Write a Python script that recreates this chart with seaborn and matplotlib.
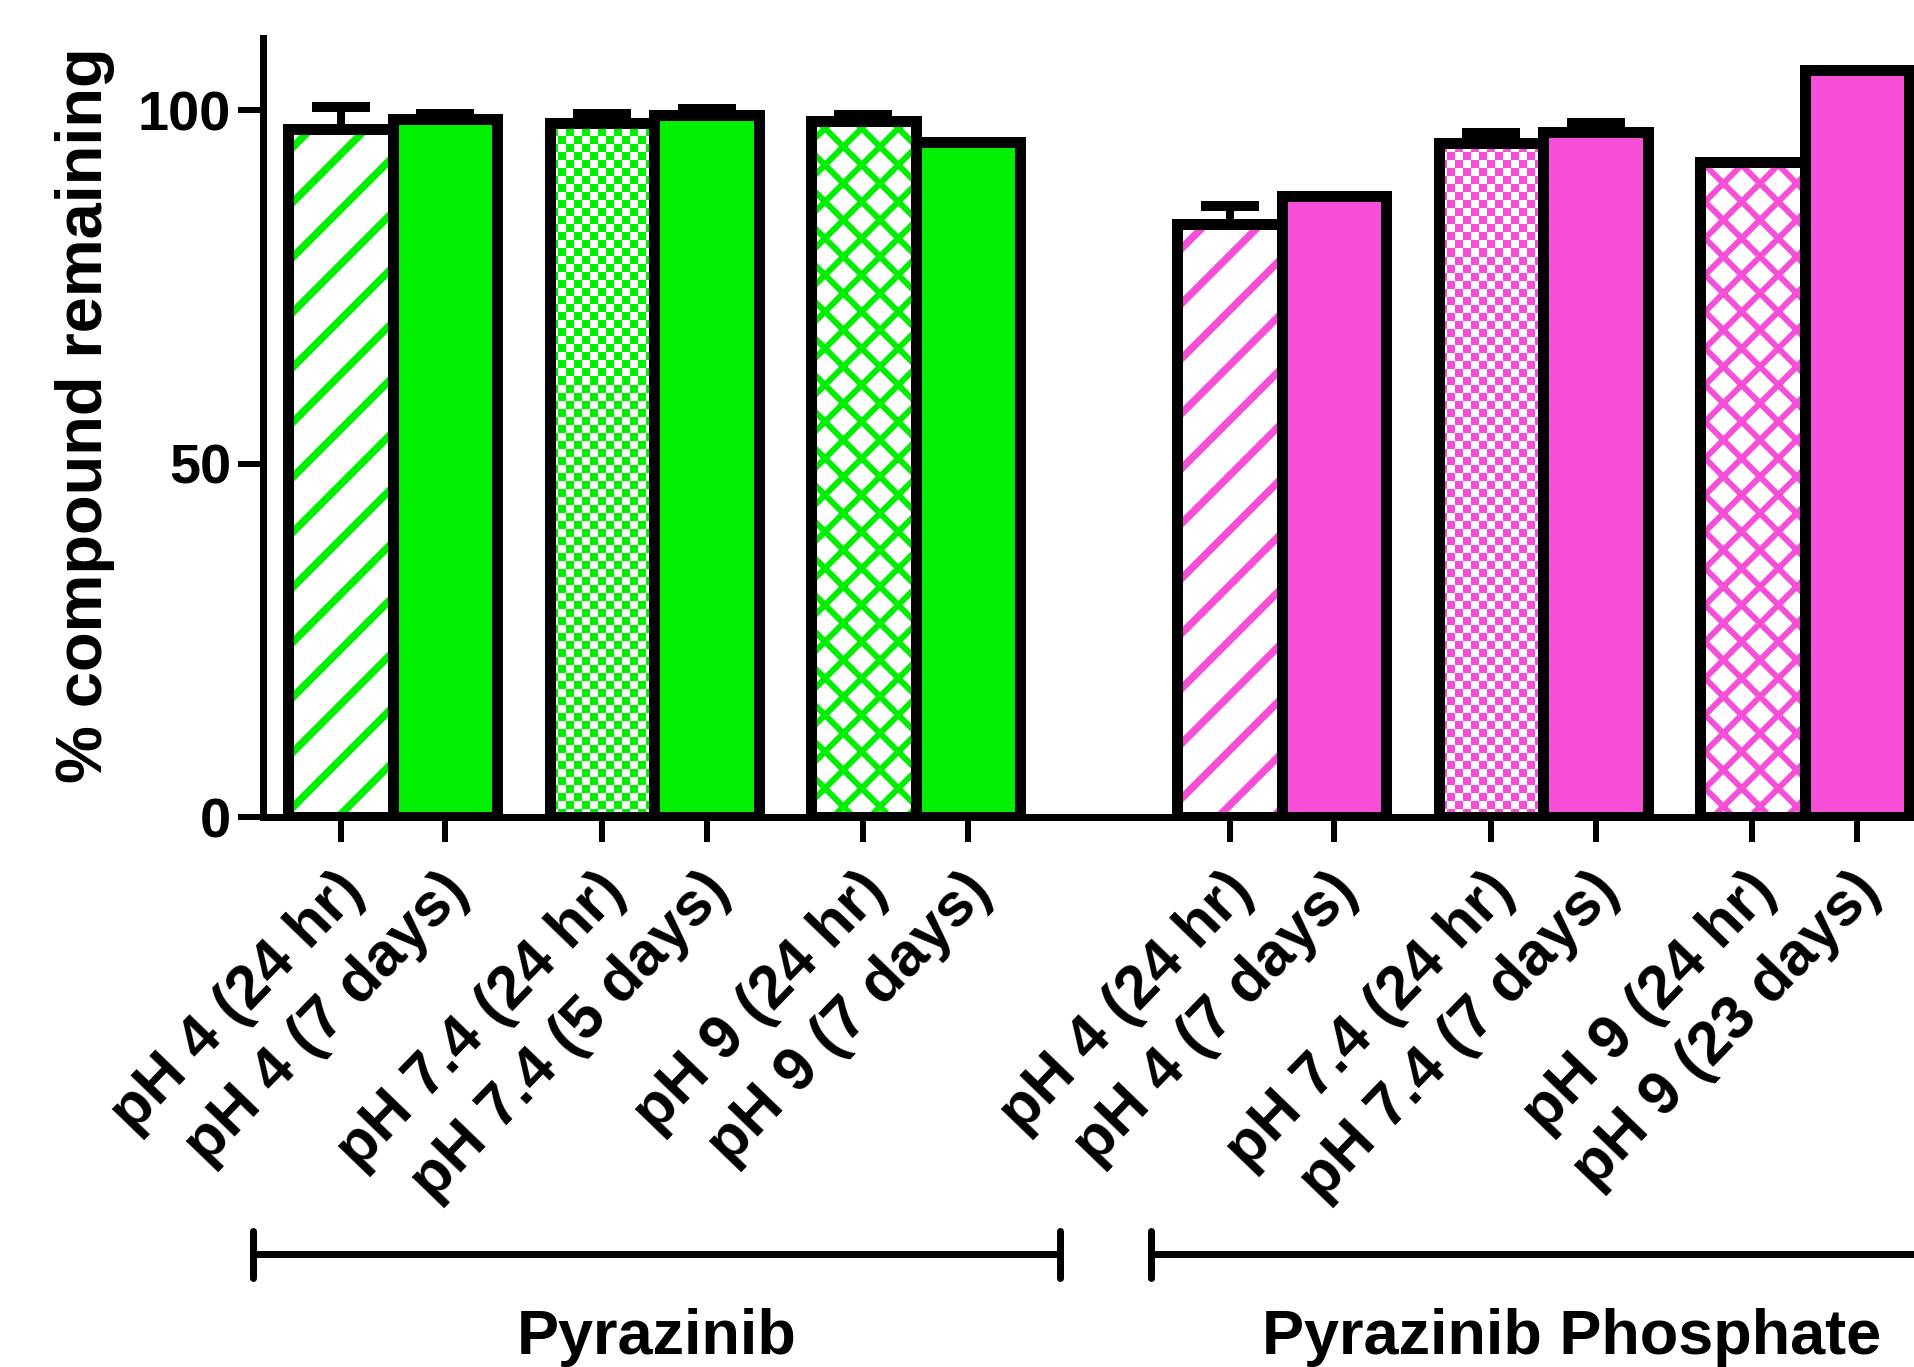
import numpy as np
import pandas as pd
import matplotlib
matplotlib.use("Agg")
import matplotlib.pyplot as plt
import seaborn as sns
from matplotlib.patches import Rectangle
from matplotlib.colors import ListedColormap
from matplotlib.lines import Line2D
import matplotlib.transforms as mtransforms

# ---------------- data ----------------
labels = ["pH 4 (24 hr)", "pH 4 (7 days)", "pH 7.4 (24 hr)", "pH 7.4 (5 days)",
          "pH 9 (24 hr)", "pH 9 (7 days)",
          "pH 4 (24 hr)", "pH 4 (7 days)", "pH 7.4 (24 hr)", "pH 7.4 (7 days)",
          "pH 9 (24 hr)", "pH 9 (23 days)"]
compound = ["Pyrazinib"] * 6 + ["Pyrazinib Phosphate"] * 6
values = [97.3, 98.8, 98.2, 99.3, 98.4, 95.5, 83.9, 87.9, 95.4, 96.9, 92.7, 105.7]
errors = [3.2, 0.7, 1.2, 0.8, 0.9, 0.0, 2.6, 0.0, 1.4, 1.3, 0.0, 0.0]
fills = ["diag", "solid", "checker", "solid", "cross", "solid"] * 2
group_names = ["Pyrazinib", "Pyrazinib Phosphate"]
yticks = [0, 50, 100]

# ---------------- layout / style ----------------
positions = [0, 1, 2.5, 3.5, 5, 6, 8.5, 9.5, 11, 12, 13.5, 14.5]
group_spans = [(-0.84, 6.88), (7.75, 15.8)]
colors = {"Pyrazinib": "#00EE00", "Pyrazinib Phosphate": "#F44FD6"}
hatches = {"diag": "//", "cross": "xxx"}
hatch_px = {"diag": 7.5, "cross": 6.0}

W, H = 1914, 1367
DPI = 330


def pt(px):
    return px * 72.0 / DPI


sns.set_theme(style="ticks")
plt.rcParams['font.family'] = ['Liberation Sans', 'DejaVu Sans']
plt.rcParams['font.weight'] = 'bold'
plt.rcParams['hatch.linewidth'] = pt(6.5)

fig = plt.figure(figsize=(W / DPI, H / DPI), dpi=DPI, facecolor="white")
ax = fig.add_axes([263 / W, 1 - 817 / H, 1 - 263 / W, (817 - 38) / H])

df = pd.DataFrame(dict(pos=positions, value=values, err=errors,
                       compound=compound, fill=fills, label=labels))

sns.barplot(data=df, x="pos", y="value", hue="compound", palette=colors,
            native_scale=True, width=1.0, dodge=False, errorbar=None,
            legend=False, saturation=1, linewidth=0, ax=ax)

XLIM = (-0.742, 15.045)
YLIM = (0, 110.2)
ax.set_xlim(*XLIM)
ax.set_ylim(*YLIM)

x_per_px = 1.0 / (ax.transData.transform((1, 0))[0] - ax.transData.transform((0, 0))[0])
y_per_px = 1.0 / (ax.transData.transform((0, 1))[1] - ax.transData.transform((0, 0))[1])
cell = 8  # checker cell in pixels
cw, ch = cell * x_per_px, cell * y_per_px

EDGE = pt(11)
pos_arr = np.array(positions)
for p in list(ax.patches):
    cx = p.get_x() + p.get_width() / 2
    i = int(np.argmin(np.abs(pos_arr - cx)))
    row = df.iloc[i]
    col = colors[row["compound"]]
    p.set_zorder(2)
    if row["fill"] == "solid":
        p.set_edgecolor("black")
        p.set_linewidth(EDGE)
        p.set_joinstyle("miter")
        continue
    p.set_facecolor("white")
    p.set_edgecolor(col)  # used as hatch colour
    p.set_linewidth(0)
    if row["fill"] in hatches:
        p.set_hatch(hatches[row["fill"]])
        if hasattr(p, "set_hatch_linewidth"):
            p.set_hatch_linewidth(pt(hatch_px[row["fill"]]))
    else:
        x0, w, h = p.get_x(), p.get_width(), p.get_height()
        nx, ny = int(np.ceil(w / cw)) + 1, int(np.ceil(h / ch)) + 1
        arr = np.add.outer(np.arange(ny), np.arange(nx)) % 2
        im = ax.imshow(arr, cmap=ListedColormap(["white", col]), origin="lower",
                       extent=(x0, x0 + nx * cw, 0, ny * ch), interpolation="nearest",
                       aspect="auto", zorder=2.5)
        im.set_clip_path(p)
    ax.add_patch(Rectangle((p.get_x(), p.get_y()), p.get_width(), p.get_height(),
                           fill=False, edgecolor="black", linewidth=EDGE,
                           joinstyle="miter", zorder=3))

ax.set_xlim(*XLIM)
ax.set_ylim(*YLIM)

# error bars (upper only)
mask = np.array(errors) > 0
ax.errorbar(pos_arr[mask], np.array(values)[mask],
            yerr=[np.zeros(mask.sum()), np.array(errors)[mask]],
            fmt="none", ecolor="black", elinewidth=pt(8), capsize=pt(29),
            capthick=pt(10), zorder=1.5)

# axes styling
sns.despine(ax=ax)
for s in ("left", "bottom"):
    ax.spines[s].set_linewidth(pt(7))
    ax.spines[s].set_color("black")
    ax.spines[s].set_zorder(4)

ax.set_xticks(positions)
ax.set_xticklabels(labels, rotation=46, ha="right", va="center",
                   rotation_mode="anchor", fontsize=pt(61), fontweight="bold")
ax.tick_params(axis="x", length=pt(25), width=pt(6), pad=pt(40), color="black",
               labelcolor="black")
shift = mtransforms.ScaledTranslation(14 / DPI, 0, fig.dpi_scale_trans)
for lab in ax.get_xticklabels():
    lab.set_transform(lab.get_transform() + shift)
ax.set_yticks(yticks)
ax.set_yticklabels([str(t) for t in yticks], fontsize=pt(56), fontweight="bold")
ax.tick_params(axis="y", length=pt(25), width=pt(6), pad=pt(7), color="black",
               labelcolor="black")
ax.set_xlabel("")
ax.set_ylabel("% compound remaining", fontsize=pt(65), fontweight="bold", color="black")
ax.yaxis.set_label_coords((115 - 263) / (W - 263), 0.516)

# group brackets and names
trans = mtransforms.blended_transform_factory(ax.transData, fig.transFigure)
yb = 1 - 1254 / H
dy = 23.5 / H
for (x0, x1), name in zip(group_spans, group_names):
    for line in ([x0, x1], [yb, yb]), ([x0, x0], [yb - dy, yb + dy]), ([x1, x1], [yb - dy, yb + dy]):
        fig.add_artist(Line2D(line[0], line[1], transform=trans, color="black",
                              linewidth=pt(7), solid_capstyle="round"))
    ax.text((x0 + x1) / 2, 1 - 1354 / H, name, transform=trans, ha="center",
            va="baseline", fontsize=pt(63), fontweight="bold", color="black",
            clip_on=False)

fig.savefig("out.png", dpi=DPI, facecolor="white")
